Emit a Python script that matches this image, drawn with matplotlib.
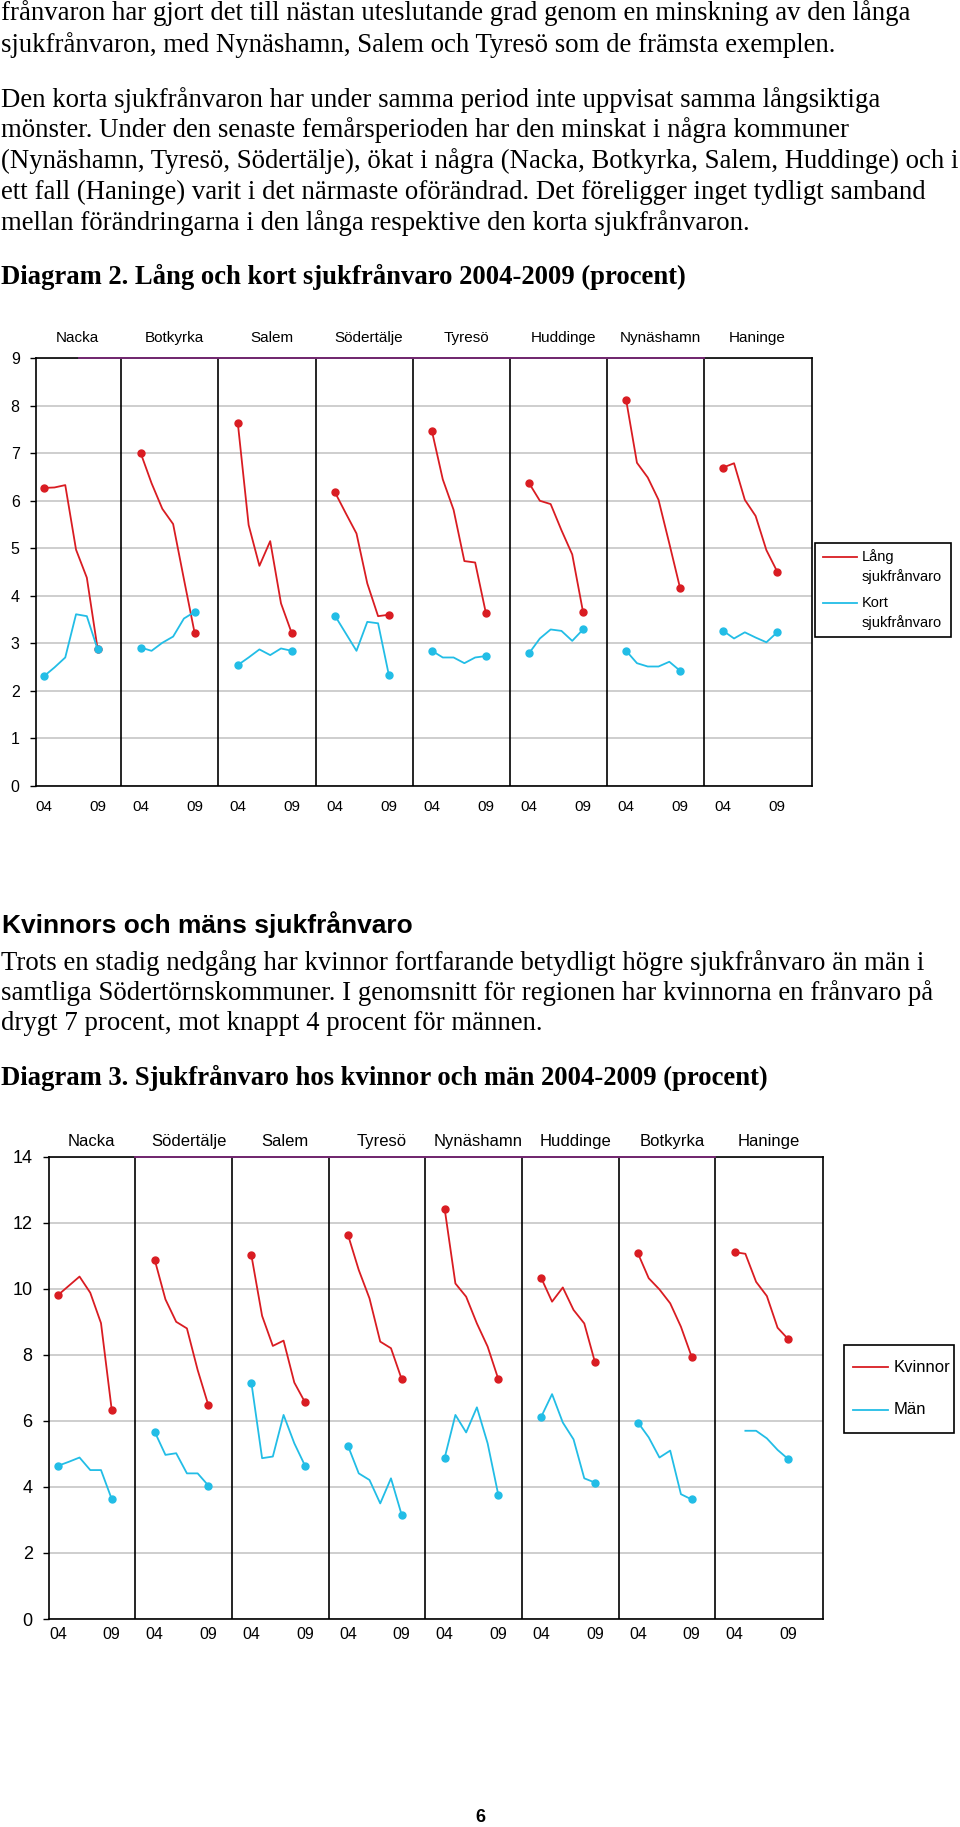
import numpy as np
import matplotlib.pyplot as plt
from matplotlib.lines import Line2D
from matplotlib.patches import Rectangle

W, H = 960, 1827

# --- Diagram 2: long / short sick leave 2004-2009, per municipality ---
kommuner_2 = ["Nacka", "Botkyrka", "Salem", "Södertälje", "Tyresö",
              "Huddinge", "Nynäshamn", "Haninge"]
lang_2 = [
    [6.27, 6.28, 6.33, 4.97, 4.38, 2.88],
    [7.00, 6.37, 5.83, 5.51, 4.35, 3.21],
    [7.63, 5.49, 4.63, 5.15, 3.84, 3.21],
    [6.18, 5.74, 5.31, 4.26, 3.57, 3.60],
    [7.46, 6.45, 5.81, 4.73, 4.70, 3.63],
    [6.37, 6.00, 5.93, 5.38, 4.87, 3.66],
    [8.12, 6.80, 6.49, 6.02, 5.10, 4.16],
    [6.70, 6.79, 6.02, 5.68, 4.96, 4.51],
]
kort_2 = [
    [2.30, 2.49, 2.70, 3.61, 3.57, 2.87],
    [2.91, 2.84, 3.01, 3.14, 3.52, 3.66],
    [2.54, 2.70, 2.87, 2.75, 2.89, 2.84],
    [3.58, 3.21, 2.84, 3.45, 3.42, 2.33],
    [2.84, 2.70, 2.70, 2.58, 2.70, 2.73],
    [2.79, 3.10, 3.29, 3.26, 3.05, 3.29],
    [2.84, 2.58, 2.51, 2.51, 2.61, 2.42],
    [3.26, 3.10, 3.23, 3.12, 3.02, 3.23],
]

# --- Diagram 3: women / men 2004-2009 ---
kommuner_3 = ["Nacka", "Södertälje", "Salem", "Tyresö", "Nynäshamn",
              "Huddinge", "Botkyrka", "Haninge"]
kvinnor_3 = [
    [9.81, 10.09, 10.37, 9.88, 8.96, 6.33],
    [10.88, 9.68, 9.00, 8.80, 7.54, 6.47],
    [11.02, 9.18, 8.27, 8.43, 7.16, 6.56],
    [11.63, 10.57, 9.71, 8.40, 8.20, 7.26],
    [12.42, 10.16, 9.76, 8.95, 8.25, 7.26],
    [10.32, 9.61, 10.04, 9.36, 8.95, 7.77],
    [11.07, 10.32, 9.98, 9.56, 8.85, 7.94],
    [11.11, 11.06, 10.21, 9.78, 8.82, 8.47],
]
man_3 = [
    [4.64, 4.76, 4.89, 4.51, 4.51, 3.63],
    [5.67, 4.97, 5.02, 4.41, 4.41, 4.04],
    [7.16, 4.87, 4.92, 6.18, 5.32, 4.64],
    [5.24, 4.41, 4.21, 3.50, 4.26, 3.15],
    [4.88, 6.18, 5.65, 6.41, 5.32, 3.75],
    [6.13, 6.81, 5.95, 5.44, 4.26, 4.13],
    [5.95, 5.50, 4.89, 5.10, 3.78, 3.62],
    [np.nan, 5.70, 5.70, 5.47, 5.12, 4.84],
]
year_labels = ["04", "09"]

RED = "#d91c22"
CYAN = "#22bde6"
PURPLE = "#7a2a78"
GRID = "#c6c6c6"
SERIF = "Liberation Serif"
SANS = "Liberation Sans"

fig = plt.figure(figsize=(W / 100, H / 100), dpi=100)


def px_axes(left, top, right, bottom):
    return fig.add_axes([left / W, 1 - bottom / H, (right - left) / W, (bottom - top) / H])


def ptext(x, y, s, **kw):
    fig.text(x / W, 1 - y / H, s, **kw)


def panels(ax, names, series, colors, ymax, ystep, xlim, purple_from,
           cat_y, cat_fs, ytick_fs, xtick_fs, xpad):
    # 6 years per municipality, 9 slots per group (3 empty as gap)
    step = 9
    xs = np.arange(6)
    for vals_list, col in zip(series, colors):
        for g, vals in enumerate(vals_list):
            ax.plot(g * step + xs, vals, color=col, lw=1.3, marker="o",
                    markevery=[0, 5], ms=5, zorder=3)
    for g in range(len(names) - 1):
        ax.axvline(g * step + 7.2, color="black", lw=1.2, zorder=2)
    for g, name in enumerate(names):
        ax.text(g * step + 3.15, cat_y, name, transform=ax.get_xaxis_transform(),
                ha="center", va="center", fontsize=cat_fs, family=SANS)
    ax.plot([purple_from, (len(names) - 2) * step + 7.2], [ymax, ymax],
            color=PURPLE, lw=1.3, clip_on=False, zorder=5)
    ax.set_xlim(*xlim)
    ax.set_ylim(0, ymax)
    yt = np.arange(0, ymax + 0.1, ystep)
    ax.set_yticks(yt)
    ax.set_yticklabels([str(int(v)) for v in yt], fontsize=ytick_fs, family=SANS)
    ax.yaxis.grid(True, color=GRID, lw=1.2)
    ax.set_axisbelow(True)
    ax.tick_params(axis="y", length=4.5, width=1, pad=7)
    xt = [g * step + i for g in range(len(names)) for i in (0, 5)]
    ax.set_xticks(xt)
    ax.set_xticklabels(year_labels * len(names), fontsize=xtick_fs, family=SANS)
    ax.tick_params(axis="x", length=0, pad=xpad)
    for sp in ax.spines.values():
        sp.set_linewidth(1.2)
        sp.set_color("black")


def legend_box(x0, y0, x1, y1, entries, line_x, text_x, fs):
    fig.add_artist(Rectangle((x0 / W, 1 - y1 / H), (x1 - x0) / W, (y1 - y0) / H,
                             transform=fig.transFigure, fill=False,
                             ec="black", lw=1.2))
    for col, ly, lines in entries:
        fig.add_artist(Line2D([line_x[0] / W, line_x[1] / W], [1 - ly / H, 1 - ly / H],
                              transform=fig.transFigure, color=col, lw=1.3))
        for k, s in enumerate(lines):
            ptext(text_x, ly + k * 20, s, ha="left", va="center", fontsize=fs, family=SANS)


# ---- page text, top ----
body = dict(ha="left", va="center", fontsize=19.25, family=SERIF)
top_lines = [
    (13, "frånvaron har gjort det till nästan uteslutande grad genom en minskning av den långa"),
    (45, "sjukfrånvaron, med Nynäshamn, Salem och Tyresö som de främsta exemplen."),
    (100, "Den korta sjukfrånvaron har under samma period inte uppvisat samma långsiktiga"),
    (130, "mönster. Under den senaste femårsperioden har den minskat i några kommuner"),
    (161, "(Nynäshamn, Tyresö, Södertälje), ökat i några (Nacka, Botkyrka, Salem, Huddinge) och i"),
    (192, "ett fall (Haninge) varit i det närmaste oförändrad. Det föreligger inget tydligt samband"),
    (223, "mellan förändringarna i den långa respektive den korta sjukfrånvaron."),
]
for y, s in top_lines:
    ptext(1, y, s, **body)
ptext(1, 277, "Diagram 2. Lång och kort sjukfrånvaro 2004-2009 (procent)",
      ha="left", va="center", fontsize=19.2, family=SERIF, weight="bold")

# ---- Diagram 2 ----
ax1 = px_axes(35.7, 358.3, 811.7, 785.7)
panels(ax1, kommuner_2, [lang_2, kort_2], [RED, CYAN], 9, 1, (-0.74, 71.2), 3.27,
       1.0475, 11, 11.5, 11, 10.5)
legend_box(815, 543, 951, 637,
           [(RED, 557, ["Lång", "sjukfrånvaro"]), (CYAN, 603, ["Kort", "sjukfrånvaro"])],
           (822.7, 856.7), 861.5, 10.5)

# ---- middle text ----
ptext(2, 925, "Kvinnors och mäns sjukfrånvaro", ha="left", va="center",
      fontsize=19, family=SANS, weight="bold")
mid_lines = [
    (963, "Trots en stadig nedgång har kvinnor fortfarande betydligt högre sjukfrånvaro än män i"),
    (993, "samtliga Södertörnskommuner. I genomsnitt för regionen har kvinnorna en frånvaro på"),
    (1023, "drygt 7 procent, mot knappt 4 procent för männen."),
]
for y, s in mid_lines:
    ptext(1, y, s, **body)
ptext(1, 1078, "Diagram 3. Sjukfrånvaro hos kvinnor och män 2004-2009 (procent)",
      ha="left", va="center", fontsize=19.2, family=SERIF, weight="bold")

# ---- Diagram 3 ----
ax2 = px_axes(48.7, 1156.7, 822.7, 1619)
panels(ax2, kommuner_3, [kvinnor_3, man_3], [RED, CYAN], 14, 2, (-0.87, 71.2), 7.2,
       1.032, 12, 13, 11.5, 6)
legend_box(844, 1345, 954, 1433,
           [(RED, 1367, ["Kvinnor"]), (CYAN, 1410, ["Män"])],
           (852.7, 888.3), 894, 12)

ptext(480, 1817, "6", ha="center", va="center", fontsize=13, family=SANS, weight="bold")

fig.savefig("out.png", dpi=100, facecolor="white")
